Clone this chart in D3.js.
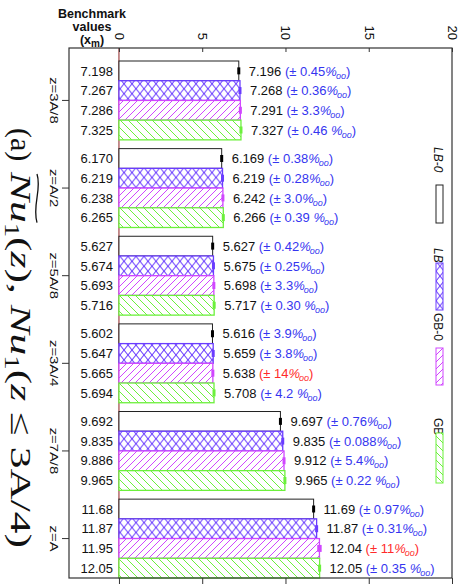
<!DOCTYPE html>
<html><head><meta charset="utf-8">
<script src="https://cdn.jsdelivr.net/npm/d3@7"></script>
<style>
html,body{margin:0;padding:0;background:#fff;}
svg{display:block;}
</style></head>
<body>
<svg id="chart" width="462" height="588"></svg>
<script>
// ---------- data ----------
const groups = ["z=3A/8","z=A/2","z=5A/8","z=3A/4","z=7A/8","z=A"];
const series = ["LB-0","LB","GB-0","GB"];
const benchmarkLabels = [
  ["7.198","7.267","7.286","7.325"],
  ["6.170","6.219","6.238","6.265"],
  ["5.627","5.674","5.693","5.716"],
  ["5.602","5.647","5.665","5.694"],
  ["9.692","9.835","9.886","9.965"],
  ["11.68","11.87","11.95","12.05"]
];
const valueLabels = [
  ["7.196","7.268","7.291","7.327"],
  ["6.169","6.219","6.242","6.266"],
  ["5.627","5.675","5.698","5.717"],
  ["5.616","5.659","5.638","5.708"],
  ["9.697","9.835","9.912","9.965"],
  ["11.69","11.87","12.04","12.05"]
];
const errorLabels = [
  ["0.45","0.36","3.3","0.46 "],
  ["0.38","0.28","3.0","0.39 "],
  ["0.42","0.25","3.3","0.30 "],
  ["3.9","3.8","14","4.2 "],
  ["0.76","0.088","5.4","0.22 "],
  ["0.97","0.31","11","0.35 "]
];
const xTicks = [0,5,10,15,20];

// ---------- styles ----------
const colors = {"LB-0":"#222222","LB":"#6a3cff","GB-0":"#d046ff","GB":"#6cf03c"};
const sans = "'Liberation Sans', Arial, Helvetica, sans-serif";
const serif = "'Liberation Serif', 'Times New Roman', serif";

const svg = d3.select("#chart");
const defs = svg.append("defs");

function pat(id, w, h, color, paths){
  const p = defs.append("pattern").attr("id",id).attr("patternUnits","userSpaceOnUse")
    .attr("width",w).attr("height",h);
  p.append("rect").attr("width",w).attr("height",h).attr("fill","#fff");
  paths.forEach(d=>p.append("path").attr("d",d).attr("stroke",color).attr("stroke-width",1).attr("fill","none"));
}
pat("p-LB", 8, 9.86, colors["LB"], ["M0,0L8,9.86","M8,0L0,9.86"]);
pat("p-GB0", 7, 7, colors["GB-0"], ["M0,7L7,0","M-1,1L1,-1","M6,8L8,6"]);
pat("p-GB", 8, 8, colors["GB"], ["M0,0L8,8","M-1,7L1,9","M7,-1L9,1"]);
const fills = {"LB-0":"#fff","LB":"url(#p-LB)","GB-0":"url(#p-GB0)","GB":"url(#p-GB)"};

// ---------- scales ----------
const x = d3.scaleLinear().domain([-3,20]).range([69,452]);
const yG = d3.scaleBand().domain(groups).range([61,578]).paddingInner(0.1).paddingOuter(0);
const yS = d3.scaleBand().domain(series).range([0,yG.bandwidth()]);

svg.append("line").attr("x1",x(0)).attr("x2",x(0)).attr("y1",48).attr("y2",578)
  .attr("stroke","#8a2020").attr("stroke-width",1);

// ---------- bars ----------
const rows = [];
groups.forEach((g,gi)=>series.forEach((s,si)=>rows.push({
  g, s, gi, si,
  bench: benchmarkLabels[gi][si],
  v: +valueLabels[gi][si],
  vLabel: valueLabels[gi][si],
  err: errorLabels[gi][si]
})));

svg.append("g").selectAll("rect").data(rows).join("rect")
  .attr("x", x(0))
  .attr("y", d=>yG(d.g)+yS(d.s))
  .attr("width", d=>x(d.v)-x(0))
  .attr("height", yS.bandwidth())
  .attr("fill", d=>fills[d.s])
  .attr("stroke", d=>colors[d.s])
  .attr("stroke-width", d=>d.s==="LB-0"?1:1.3);

function errW(d){const e=+d.err/1000; return Math.max(3, x(d.v*(1+e))-x(d.v*(1-e)));}
svg.append("g").selectAll("rect").data(rows).join("rect")
  .attr("x", d=>x(d.v)-errW(d)/2)
  .attr("width", errW)
  .attr("y", d=>yG(d.g)+yS(d.s)+yS.bandwidth()/2-3.5)
  .attr("height", 7)
  .attr("fill", d=>d.s==="LB-0"?"#000":colors[d.s]);

svg.append("g").selectAll("text").data(rows).join("text")
  .attr("x", 113)
  .attr("y", d=>yG(d.g)+yS(d.s)+yS.bandwidth()/2)
  .attr("dy","0.36em")
  .attr("text-anchor","end")
  .attr("font-family", sans).attr("font-size", 13).attr("fill","#111")
  .text(d=>d.bench);

const vl = svg.append("g").selectAll("text").data(rows).join("text")
  .attr("x", d=>x(d.v)+10)
  .attr("y", d=>yG(d.g)+yS(d.s)+yS.bandwidth()/2)
  .attr("dy","0.36em")
  .attr("font-family", sans).attr("font-size", 13).attr("fill","#111");
vl.append("tspan").text(d=>d.vLabel+" ");
const et = vl.append("tspan").attr("fill", d=>(+d.err>=10)?"#ff2a2a":"#3535f0");
et.append("tspan").text(d=>"(\u00b1 "+d.err);
et.append("tspan").attr("font-style","italic").text("%");
et.append("tspan").attr("font-style","italic").attr("font-size",9).attr("dy",3).attr("dx",-1).text("oo");
et.append("tspan").attr("dy",-3).text(")");

// ---------- frame & axes ----------
svg.append("rect").attr("x",69).attr("y",48).attr("width",383).attr("height",530)
  .attr("fill","none").attr("stroke","#333").attr("stroke-width",1.2);

const axTop = svg.append("g").attr("transform","translate(0,48)")
  .call(d3.axisTop(x).tickValues(xTicks).tickSizeInner(-4).tickSizeOuter(0));
axTop.select(".domain").remove();
axTop.selectAll("line").attr("stroke","#333");
axTop.selectAll("text")
  .attr("x",0).attr("y",0).attr("dy","0.35em")
  .attr("transform","translate(0,-8) rotate(90)")
  .attr("text-anchor","end")
  .attr("font-family",sans).attr("font-size",13).attr("fill","#111");

const axBot = svg.append("g").attr("transform","translate(0,578)")
  .call(d3.axisBottom(x).tickValues(xTicks).tickSizeInner(6).tickSizeOuter(0).tickFormat(""));
axBot.select(".domain").remove();
axBot.selectAll("line").attr("stroke","#333");

const axLeft = svg.append("g").attr("transform","translate(69,0)")
  .call(d3.axisLeft(yG).tickSizeInner(7).tickSizeOuter(0).tickFormat(""));
axLeft.select(".domain").remove();
axLeft.selectAll("line").attr("stroke","#333");

svg.append("g").selectAll("text").data(groups).join("text")
  .attr("transform", d=>`translate(50,${yG(d)+yG.bandwidth()/2}) rotate(90) scale(1.35,1)`)
  .attr("text-anchor","middle")
  .attr("font-family",sans).attr("font-size",11).attr("fill","#111")
  .text(d=>d);

const hdr = svg.append("g").attr("font-family",sans).attr("font-weight","bold")
  .attr("font-size",12.5).attr("text-anchor","middle").attr("fill","#111");
hdr.append("text").attr("x",92).attr("y",17.5).text("Benchmark");
hdr.append("text").attr("x",92).attr("y",31).text("values");
const xm = hdr.append("text").attr("x",92).attr("y",44);
xm.append("tspan").text("(x");
xm.append("tspan").attr("font-size",10).attr("dy",3).text("m");
xm.append("tspan").attr("dy",-3).text(")");

// ---------- legend ----------
const legendText = [147,248,313,418];
const legendSw = [[185,223],[263,310],[348,385],[433,483]];
const legendItalic = [true,true,false,false];
series.forEach((s,i)=>{
  svg.append("text")
    .attr("transform",`translate(434,${legendText[i]}) rotate(90)`)
    .attr("font-family",sans).attr("font-size",12)
    .attr("font-style",legendItalic[i]?"italic":"normal").attr("fill","#111")
    .text(s);
  svg.append("rect").attr("x",436).attr("y",legendSw[i][0])
    .attr("width",7).attr("height",legendSw[i][1]-legendSw[i][0])
    .attr("fill",fills[s]).attr("stroke",colors[s]).attr("stroke-width",1);
});

// ---------- title ----------
const tg = svg.append("g").attr("transform","translate(11,0) rotate(90)");
tg.append("text").attr("x",128).attr("font-family",serif).attr("font-size",30).attr("fill","#111").text("(a)");
const tt = tg.append("text").attr("x",172).attr("font-family",serif).attr("font-size",30).attr("fill","#111")
  .attr("textLength",376).attr("lengthAdjust","spacingAndGlyphs");
tt.append("tspan").attr("font-style","italic").text("Nu");
tt.append("tspan").attr("font-size",20).attr("dy",6).text("1");
tt.append("tspan").attr("dy",-6).text("(");
tt.append("tspan").attr("font-style","italic").text("z");
tt.append("tspan").text("), ");
tt.append("tspan").attr("font-style","italic").text("Nu");
tt.append("tspan").attr("font-size",20).attr("dy",6).text("1");
tt.append("tspan").attr("dy",-6).text("(");
tt.append("tspan").attr("font-style","italic").text("z");
tt.append("tspan").text(" \u2264 3A/4)");
const tn = tt.node();
const x0 = tn.getStartPositionOfChar(0).x, x1 = tn.getEndPositionOfChar(1).x;
const ty = -26, w = x1-x0;
tg.append("path")
  .attr("d",`M${x0+2},${ty} C${x0+w*0.35},${ty-5} ${x0+w*0.65},${ty+5} ${x1},${ty}`)
  .attr("fill","none").attr("stroke","#111").attr("stroke-width",1.3);
</script>
</body></html>
